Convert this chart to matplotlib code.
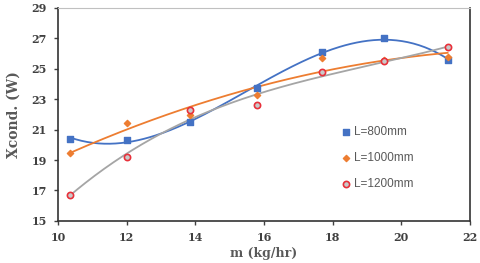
import numpy as np
import matplotlib
matplotlib.use("Agg")
import matplotlib.pyplot as plt

x = [10.35, 12.0, 13.85, 15.8, 17.7, 19.5, 21.35]
y800 = [20.4, 20.35, 21.5, 23.75, 26.1, 27.0, 25.6]
y1000 = [19.45, 21.45, 21.95, 23.25, 25.7, 25.6, 25.8]
y1200 = [16.7, 19.2, 22.3, 22.6, 24.8, 25.5, 26.4]
labels = ["L=800mm", "L=1000mm", "L=1200mm"]
xticks = [10, 12, 14, 16, 18, 20, 22]
yticks = [15, 17, 19, 21, 23, 25, 27, 29]

fig = plt.figure(figsize=(4.8, 2.63), dpi=100)
ax = fig.add_axes([0.121, 0.16, 0.858, 0.81])

xs = np.linspace(min(x), max(x), 200)
for ys, deg, col in [(y800, 3, "#4472c4"), (y1000, 2, "#ed7d31"), (y1200, 3, "#a5a5a5")]:
    p = np.polyfit(x, ys, deg)
    ax.plot(xs, np.polyval(p, xs), color=col, lw=1.3, zorder=2)

ax.scatter(x, y800, marker="s", s=22, color="#4472c4", label=labels[0], zorder=3)
ax.scatter(x, y1000, marker="D", s=10, color="#ed7d31", label=labels[1], zorder=3)
ax.scatter(x, y1200, marker="o", s=20, facecolor="#c9c9c9", edgecolor="#e8303a", lw=1.2, label=labels[2], zorder=3)

ax.set_xlim(10, 22)
ax.set_ylim(15, 29)
ax.set_xticks(xticks)
ax.set_yticks(yticks)
tf = dict(family="DejaVu Serif", weight="bold", size=8, color="#404040")
ax.set_xticklabels([str(t) for t in xticks], **tf)
ax.set_yticklabels([str(t) for t in yticks], **tf)
ax.tick_params(axis="x", direction="out", length=3, width=1, color="#404040", pad=5)
ax.tick_params(axis="y", direction="out", length=3, width=1, color="#404040", pad=5)
ax.set_xlabel("m (kg/hr)", family="DejaVu Serif", weight="bold", size=9, color="#595959", labelpad=3)
ax.set_ylabel("Xcond. (W)", family="DejaVu Serif", weight="bold", size=10, color="#595959", labelpad=8)
for s in ["left", "bottom", "right"]:
    ax.spines[s].set_color("#333333")
    ax.spines[s].set_linewidth(1.2)
ax.spines["top"].set_color("#c0c0c0")
ax.spines["top"].set_linewidth(0.8)

leg = ax.legend(loc="upper left", bbox_to_anchor=(0.66, 0.495), frameon=False,
                handletextpad=0.1, labelspacing=1.2, handlelength=1.0,
                prop=dict(family="Liberation Sans", size=8.5))
for t in leg.get_texts():
    t.set_color("#595959")

fig.savefig("out.png", dpi=100)
